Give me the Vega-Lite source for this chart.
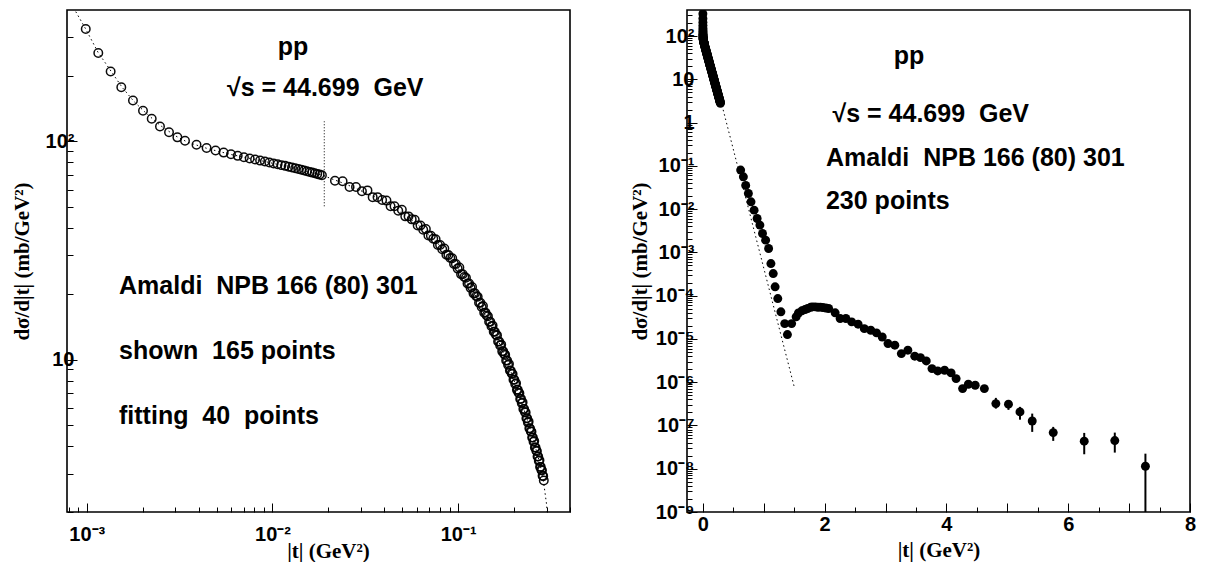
{
  "$schema": "https://vega.github.io/schema/vega-lite/v6.json",
  "padding": {"left": 10, "top": 4, "right": 0, "bottom": 0},
  "spacing": 56,
  "background": "white",
  "config": {
    "view": {"stroke": "black", "strokeWidth": 1.6},
    "axis": {
      "labelFont": "Liberation Sans", "labelFontWeight": "bold", "labelFontSize": 20, "labelColor": "black",
      "titleFont": "Liberation Serif", "titleFontWeight": "bold", "titleFontSize": 21, "titleColor": "black",
      "grid": false, "domain": false, "tickColor": "black", "tickWidth": 1,
      "labelOverlap": false, "labelFlush": false
    }
  },
  "datasets": {
    "s1": [
      {"t":0.000988,"y":327},{"t":0.001154,"y":254},{"t":0.001345,"y":209},{"t":0.001535,"y":177},{"t":0.001774,"y":154},{"t":0.002009,"y":138},{"t":0.002238,"y":127},{"t":0.00248,"y":117},{"t":0.002774,"y":110},{"t":0.003076,"y":104.3},{"t":0.003382,"y":100.7},
      {"t":0.0039,"y":96.5},{"t":0.00442,"y":93.3},{"t":0.00494,"y":90.8},{"t":0.00546,"y":88.8},{"t":0.00598,"y":87.2},{"t":0.0065,"y":85.8},{"t":0.00702,"y":84.6},{"t":0.00754,"y":83.5},{"t":0.00806,"y":82.5},{"t":0.00858,"y":81.6},{"t":0.0091,"y":80.8},{"t":0.00962,"y":80.0},{"t":0.01014,"y":79.2},{"t":0.01066,"y":78.5},{"t":0.01118,"y":77.8},{"t":0.0117,"y":77.2},{"t":0.01222,"y":76.5},{"t":0.01274,"y":75.9},{"t":0.01326,"y":75.3},{"t":0.01378,"y":74.7},{"t":0.0143,"y":74.1},{"t":0.01482,"y":73.5},{"t":0.01534,"y":73.0},{"t":0.01586,"y":72.4},{"t":0.01638,"y":71.9},{"t":0.0169,"y":71.4},{"t":0.01742,"y":70.9},{"t":0.01794,"y":70.4},{"t":0.01846,"y":69.9},
      {"t":0.0217,"y":66.0},{"t":0.02386,"y":65.6},{"t":0.02601,"y":61.8},{"t":0.02817,"y":61.8},{"t":0.03032,"y":59.0},{"t":0.03248,"y":59.6},{"t":0.03464,"y":55.5},{"t":0.03679,"y":55.5},{"t":0.03895,"y":53.8},{"t":0.0411,"y":53.5},
      {"t":0.04326,"y":50.4},{"t":0.04542,"y":50.4},{"t":0.04757,"y":48.1},{"t":0.04973,"y":48.6},{"t":0.05188,"y":45.3},{"t":0.05404,"y":45.3},{"t":0.0562,"y":43.9},{"t":0.05835,"y":43.7},{"t":0.06051,"y":41.1},{"t":0.06266,"y":41.1},
      {"t":0.06482,"y":39.3},{"t":0.06698,"y":39.6},{"t":0.06913,"y":37.0},{"t":0.07129,"y":36.9},{"t":0.07344,"y":35.8},{"t":0.0756,"y":35.6},{"t":0.07776,"y":33.5},{"t":0.07991,"y":33.5},{"t":0.08207,"y":32.0},{"t":0.08422,"y":32.3},
      {"t":0.08638,"y":30.2},{"t":0.08854,"y":30.1},{"t":0.09069,"y":29.2},{"t":0.09285,"y":29.1},{"t":0.095,"y":27.4},{"t":0.09716,"y":27.4},{"t":0.09932,"y":26.1},{"t":0.10147,"y":26.4},{"t":0.10363,"y":24.6},{"t":0.10578,"y":24.6},
      {"t":0.10794,"y":23.9},{"t":0.1101,"y":23.7},{"t":0.11225,"y":22.3},{"t":0.11441,"y":22.3},{"t":0.11656,"y":21.3},{"t":0.11872,"y":21.5},{"t":0.12088,"y":20.1},{"t":0.12303,"y":20.1},{"t":0.12519,"y":19.5},{"t":0.12734,"y":19.4},
      {"t":0.1295,"y":18.2},{"t":0.13166,"y":18.2},{"t":0.13381,"y":17.4},{"t":0.13597,"y":17.6},{"t":0.13812,"y":16.4},{"t":0.14028,"y":16.4},{"t":0.14244,"y":15.9},{"t":0.14459,"y":15.8},{"t":0.14675,"y":14.9},{"t":0.1489,"y":14.9},
      {"t":0.15106,"y":14.2},{"t":0.15322,"y":14.3},{"t":0.15537,"y":13.4},{"t":0.15753,"y":13.4},{"t":0.15968,"y":13.0},{"t":0.16184,"y":12.9},{"t":0.164,"y":12.1},{"t":0.16615,"y":12.1},{"t":0.16831,"y":11.6},{"t":0.17046,"y":11.7},
      {"t":0.17262,"y":10.9},{"t":0.17478,"y":10.9},{"t":0.17693,"y":10.6},{"t":0.17909,"y":10.5},{"t":0.18124,"y":9.9},{"t":0.1834,"y":9.9},{"t":0.18556,"y":9.45},{"t":0.18771,"y":9.54},{"t":0.18987,"y":8.9},{"t":0.19202,"y":8.89},
      {"t":0.19418,"y":8.63},{"t":0.19634,"y":8.58},{"t":0.19849,"y":8.08},{"t":0.20065,"y":8.08},{"t":0.2028,"y":7.72},{"t":0.20496,"y":7.79},{"t":0.20712,"y":7.26},{"t":0.20927,"y":7.26},{"t":0.21143,"y":7.04},{"t":0.21358,"y":7.01},
      {"t":0.21574,"y":6.59},{"t":0.2179,"y":6.6},{"t":0.22005,"y":6.3},{"t":0.22221,"y":6.36},{"t":0.22436,"y":5.93},{"t":0.22652,"y":5.93},{"t":0.22868,"y":5.75},{"t":0.23083,"y":5.71},{"t":0.23299,"y":5.38},{"t":0.23514,"y":5.38},
      {"t":0.2373,"y":5.14},{"t":0.23946,"y":5.19},{"t":0.24161,"y":4.84},{"t":0.24377,"y":4.83},{"t":0.24592,"y":4.69},{"t":0.24808,"y":4.66},{"t":0.25024,"y":4.39},{"t":0.25239,"y":4.39},{"t":0.25455,"y":4.2},{"t":0.2567,"y":4.23},
      {"t":0.25886,"y":3.95},{"t":0.26102,"y":3.95},{"t":0.26317,"y":3.83},{"t":0.26533,"y":3.8},{"t":0.26748,"y":3.59},{"t":0.26964,"y":3.59},{"t":0.2718,"y":3.43},{"t":0.27395,"y":3.45},{"t":0.27611,"y":3.22},{"t":0.27826,"y":3.22},
      {"t":0.28042,"y":3.12},{"t":0.28258,"y":3.1},{"t":0.28473,"y":2.93},{"t":0.28689,"y":2.92},{"t":0.28904,"y":2.79}
    ],
    "s2": [
      {"t":0.621,"y":0.0798},{"t":0.666,"y":0.0558},{"t":0.704,"y":0.0353},{"t":0.748,"y":0.023},{"t":0.791,"y":0.01476},{"t":0.842,"y":0.00948},{"t":0.892,"y":0.00607},{"t":0.937,"y":0.00427},{"t":0.98,"y":0.00273},{"t":1.031,"y":0.00192},
      {"t":1.08,"y":0.00123},{"t":1.118,"y":0.000552},{"t":1.156,"y":0.000324},{"t":1.187,"y":0.00016},{"t":1.231,"y":8.57e-5},{"t":1.282,"y":4.23e-5},{"t":1.345,"y":2.26e-5},{"t":1.389,"y":1.26e-5},{"t":1.458,"y":2.26e-5},{"t":1.532,"y":3.24e-5},
      {"t":1.57,"y":3.98e-5},{"t":1.626,"y":4.46e-5},{"t":1.68,"y":4.79e-5},{"t":1.721,"y":5.04e-5},{"t":1.77,"y":5.37e-5},{"t":1.8,"y":5.5e-5},{"t":1.846,"y":5.51e-5},{"t":1.89,"y":5.37e-5},{"t":1.93,"y":5.43e-5},{"t":1.971,"y":5.31e-5},
      {"t":2.02,"y":5.19e-5},{"t":2.066,"y":5.04e-5},{"t":2.173,"y":4.01e-5},{"t":2.255,"y":2.96e-5},{"t":2.349,"y":2.96e-5},{"t":2.444,"y":2.48e-5},{"t":2.55,"y":2.19e-5},{"t":2.652,"y":1.73e-5},{"t":2.758,"y":1.59e-5},{"t":2.852,"y":1.38e-5},
      {"t":2.946,"y":1.11e-5},{"t":3.041,"y":7.82e-6},{"t":3.153,"y":7.16e-6},{"t":3.26,"y":4.58e-6},{"t":3.367,"y":5.5e-6},{"t":3.48,"y":3.99e-6},{"t":3.574,"y":3.7e-6},{"t":3.669,"y":3.1e-6},{"t":3.763,"y":2.06e-6},{"t":3.857,"y":1.82e-6},
      {"t":3.97,"y":1.89e-6},{"t":4.077,"y":1.64e-6},{"t":4.159,"y":1.21e-6},{"t":4.266,"y":7.11e-7},{"t":4.36,"y":8.97e-7},{"t":4.473,"y":8.51e-7},{"t":4.623,"y":7.11e-7},
      {"t":4.812,"y":3.2e-7,"lo":2.45e-7,"hi":4.34e-7},{"t":5.019,"y":3.1e-7,"lo":2.29e-7,"hi":3.5e-7},{"t":5.208,"y":2.06e-7,"lo":1.36e-7,"hi":2.69e-7},{"t":5.409,"y":1.27e-7,"lo":7.1e-8,"hi":1.88e-7},
      {"t":5.754,"y":6.84e-8,"lo":4.4e-8,"hi":9.27e-8},{"t":6.263,"y":4.33e-8,"lo":2.16e-8,"hi":6.73e-8},{"t":6.765,"y":4.47e-8,"lo":2.36e-8,"hi":6.84e-8},{"t":7.268,"y":1.14e-8,"lo":5e-10,"hi":2.23e-8}
    ],
    "fitL": [
      {"t":0.000873,"y":393},{"t":0.000988,"y":327},{"t":0.00115,"y":256},{"t":0.00135,"y":210},{"t":0.00155,"y":177},{"t":0.0018,"y":152},{"t":0.0021,"y":134},{"t":0.0025,"y":118},{"t":0.003,"y":106},{"t":0.0035,"y":99},
      {"t":0.0045,"y":92.5},{"t":0.006,"y":87},{"t":0.009,"y":81},{"t":0.013,"y":75.5},{"t":0.0185,"y":70},{"t":0.025,"y":63.5},{"t":0.04,"y":53.3},{"t":0.06,"y":41.9},{"t":0.08,"y":33.2},{"t":0.1,"y":26.1},
      {"t":0.13,"y":18.4},{"t":0.16,"y":12.9},{"t":0.19,"y":9.05},{"t":0.22,"y":6.35},{"t":0.25,"y":4.5},{"t":0.27,"y":3.55},{"t":0.285,"y":2.95},{"t":0.2985,"y":2.2},{"t":0.303,"y":1.9}
    ],
    "fitR": [
      {"t":0.001,"y":330},{"t":0.0035,"y":99},{"t":0.0185,"y":70},{"t":0.05,"y":48},{"t":0.1,"y":26.1},{"t":0.2,"y":8.7},{"t":0.307,"y":2.77},{"t":1.5,"y":7.9e-7}
    ],
    "vline": [{"t":0.01901,"y":50.4,"y2":123.5}],
    "headL": [{"t":0.012891,"y":249.3,"label":"pp"}],
    "notesL": [
      {"t":0.005689,"y":161.9,"label":"√s = 44.699\u00a0 GeV"},
      {"t":0.0014922,"y":19.89,"label":"Amaldi\u00a0 NPB 166 (80) 301"},
      {"t":0.0014922,"y":10.03,"label":"shown\u00a0 165 points"},
      {"t":0.0014922,"y":5.058,"label":"fitting\u00a0 40\u00a0 points"}
    ],
    "headR": [{"t":3.387,"y":22.88,"label":"pp"}],
    "notesR": [
      {"t":2.129,"y":1.0435,"label":"√s = 44.699\u00a0 GeV"},
      {"t":2.022,"y":0.09867,"label":"Amaldi\u00a0 NPB 166 (80) 301"},
      {"t":2.022,"y":0.01033,"label":"230 points"}
    ]
  },
  "hconcat": [
    {
      "width": 503,
      "height": 502,
      "encoding": {
        "x": {"field": "t", "type": "quantitative",
          "scale": {"type": "log", "domain": [0.000783, 0.4], "nice": false},
          "axis": {
            "title": "|t| (GeV²)", "titleX": 261, "titleY": 39, "titleBaseline": "middle", "titleAlign": "center",
            "values": [0.0008,0.0009,0.001,0.002,0.003,0.004,0.005,0.006,0.007,0.008,0.009,0.01,0.02,0.03,0.04,0.05,0.06,0.07,0.08,0.09,0.1,0.2,0.3,0.4],
            "labelExpr": "abs(log(datum.value)/LN10 - round(log(datum.value)/LN10)) > 1e-6 ? '' : round(log(datum.value)/LN10) == -3 ? '10⁻³' : round(log(datum.value)/LN10) == -2 ? '10⁻²' : '10⁻¹'",
            "tickSize": {"condition": {"test": "abs(log(datum.value)/LN10 - round(log(datum.value)/LN10)) < 1e-6", "value": -9}, "value": -5},
            "labelPadding": 21
          }
        },
        "y": {"field": "y", "type": "quantitative",
          "scale": {"type": "log", "domain": [2, 400], "nice": false},
          "axis": {
            "title": "dσ/d|t| (mb/GeV²)", "titleX": -45, "titleY": 251, "titleBaseline": "middle", "titleAngle": -90,
            "values": [2,3,4,5,6,7,8,9,10,20,30,40,50,60,70,80,90,100,200,300],
            "labelExpr": "abs(log(datum.value)/LN10 - round(log(datum.value)/LN10)) > 1e-6 ? '' : round(log(datum.value)/LN10) == 2 ? '10²' : '10'",
            "tickSize": {"condition": {"test": "abs(log(datum.value)/LN10 - round(log(datum.value)/LN10)) < 1e-6", "value": -10}, "value": -6},
            "labelPadding": 3
          }
        }
      },
      "layer": [
        {"data": {"name": "fitL"}, "mark": {"type": "line", "color": "black", "strokeWidth": 1, "strokeDash": [1.5, 3], "clip": true}},
        {"data": {"name": "vline"}, "mark": {"type": "rule", "color": "black", "strokeWidth": 1, "strokeDash": [1, 2]}, "encoding": {"y2": {"field": "y2"}}},
        {"data": {"name": "s1"}, "mark": {"type": "point", "shape": "circle", "filled": false, "stroke": "black", "strokeWidth": 1.5, "size": 72, "opacity": 0.95, "clip": true}},
        {"data": {"name": "headL"}, "mark": {"type": "text", "font": "Liberation Sans", "fontWeight": "bold", "fontSize": 25, "baseline": "alphabetic", "align": "center", "color": "black"},
          "encoding": {"text": {"field": "label"}}},
        {"data": {"name": "notesL"}, "mark": {"type": "text", "font": "Liberation Sans", "fontWeight": "bold", "fontSize": 25, "baseline": "alphabetic", "align": "left", "color": "black"},
          "encoding": {"text": {"field": "label"}}}
      ]
    },
    {
      "width": 503,
      "height": 502,
      "encoding": {
        "x": {"field": "t", "type": "quantitative",
          "scale": {"domain": [-0.26, 8], "nice": false, "zero": false},
          "axis": {
            "title": "|t| (GeV²)", "titleY": 38, "titleBaseline": "middle",
            "values": [0,0.5,1,1.5,2,2.5,3,3.5,4,4.5,5,5.5,6,6.5,7,7.5,8],
            "labelExpr": "datum.value % 2 === 0 ? format(datum.value, 'd') : ''",
            "tickSize": {"condition": {"test": "datum.value % 1 === 0", "value": -9}, "value": -5},
            "labelPadding": 11
          }
        },
        "y": {"field": "y", "type": "quantitative",
          "scale": {"type": "log", "domain": [1e-9, 400], "nice": false},
          "axis": {
            "title": "dσ/d|t| (mb/GeV²)", "titleX": -47, "titleY": 251, "titleBaseline": "middle", "titleAngle": -90,
            "values": [1e-9,2e-9,3e-9,4e-9,5e-9,6e-9,7e-9,8e-9,9e-9,1e-8,2e-8,3e-8,4e-8,5e-8,6e-8,7e-8,8e-8,9e-8,1e-7,2e-7,3e-7,4e-7,5e-7,6e-7,7e-7,8e-7,9e-7,1e-6,2e-6,3e-6,4e-6,5e-6,6e-6,7e-6,8e-6,9e-6,1e-5,2e-5,3e-5,4e-5,5e-5,6e-5,7e-5,8e-5,9e-5,1e-4,2e-4,3e-4,4e-4,5e-4,6e-4,7e-4,8e-4,9e-4,0.001,0.002,0.003,0.004,0.005,0.006,0.007,0.008,0.009,0.01,0.02,0.03,0.04,0.05,0.06,0.07,0.08,0.09,0.1,0.2,0.3,0.4,0.5,0.6,0.7,0.8,0.9,1,2,3,4,5,6,7,8,9,10,20,30,40,50,60,70,80,90,100,200,300],
            "labelExpr": "abs(log(datum.value)/LN10 - round(log(datum.value)/LN10)) > 1e-6 ? '' : round(log(datum.value)/LN10) == 2 ? '10²' : round(log(datum.value)/LN10) == 1 ? '10' : round(log(datum.value)/LN10) == 0 ? '1' : round(log(datum.value)/LN10) == -1 ? '10⁻¹' : round(log(datum.value)/LN10) == -2 ? '10⁻²' : round(log(datum.value)/LN10) == -3 ? '10⁻³' : round(log(datum.value)/LN10) == -4 ? '10⁻⁴' : round(log(datum.value)/LN10) == -5 ? '10⁻⁵' : round(log(datum.value)/LN10) == -6 ? '10⁻⁶' : round(log(datum.value)/LN10) == -7 ? '10⁻⁷' : round(log(datum.value)/LN10) == -8 ? '10⁻⁸' : '10⁻⁹'",
            "tickSize": {"condition": {"test": "abs(log(datum.value)/LN10 - round(log(datum.value)/LN10)) < 1e-6", "value": -10}, "value": -5},
            "labelPadding": 3
          }
        }
      },
      "layer": [
        {"data": {"name": "fitR"}, "mark": {"type": "line", "color": "black", "strokeWidth": 1, "strokeDash": [1.5, 3], "clip": true}},
        {"data": {"name": "s2"}, "mark": {"type": "rule", "color": "black", "strokeWidth": 2, "clip": true}, "encoding": {"y": {"field": "lo", "type": "quantitative"}, "y2": {"field": "hi"}}},
        {"data": {"name": "s1"}, "mark": {"type": "circle", "color": "black", "size": 80, "opacity": 1, "clip": true}},
        {"data": {"name": "s2"}, "mark": {"type": "circle", "color": "black", "size": 80, "opacity": 1, "clip": true}},
        {"data": {"name": "headR"}, "mark": {"type": "text", "font": "Liberation Sans", "fontWeight": "bold", "fontSize": 25, "baseline": "alphabetic", "align": "center", "color": "black"},
          "encoding": {"text": {"field": "label"}}},
        {"data": {"name": "notesR"}, "mark": {"type": "text", "font": "Liberation Sans", "fontWeight": "bold", "fontSize": 25, "baseline": "alphabetic", "align": "left", "color": "black"},
          "encoding": {"text": {"field": "label"}}}
      ]
    }
  ]
}
